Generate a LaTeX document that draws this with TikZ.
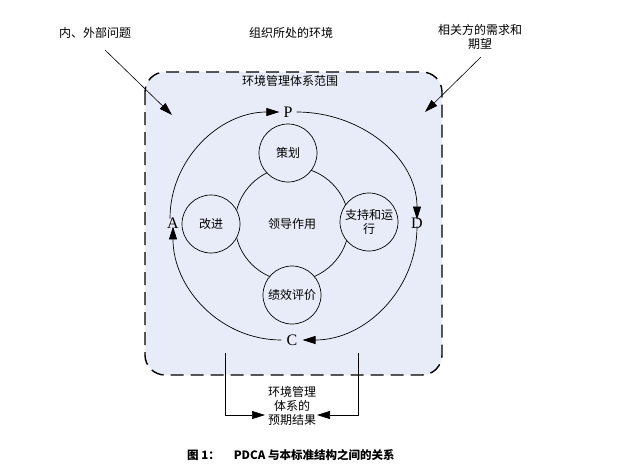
\documentclass[tikz,border=0pt]{standalone}
\usepackage{fontspec}
\setmainfont{Liberation Serif}
\newfontfamily\cjk{Noto Sans CJK SC}
\usetikzlibrary{arrows.meta}
\definecolor{scopefill}{RGB}{232,236,248}
\tikzset{
  zh/.style={font=\cjk\fontsize{12}{14}\selectfont, inner sep=1pt},
  letter/.style={font=\fontsize{16}{18}\selectfont, inner sep=1pt},
  ring/.style={draw, line width=0.7pt, circle, minimum size=58pt, inner sep=0pt, font=\cjk\fontsize{12}{14.5}\selectfont, align=center},
  arr/.style={line width=0.7pt, -{Triangle[length=13pt,width=8pt]}},
  thinarr/.style={line width=0.6pt, -{Triangle[length=13pt,width=8pt]}}
}
\begin{document}
\begin{tikzpicture}[x=1pt,y=-1pt]
\useasboundingbox (0,0) rectangle (618,474);
% scope box
\draw[line width=1.4pt, dash pattern=on 13pt off 7pt, rounded corners=20pt, fill=scopefill] (145,72) rectangle (442,375);
% top labels
\node[zh] (env) at (291,33) {组织所处的环境};
\node[zh] (iss) at (95,33) {内、外部问题};
\node[zh, align=center] (need) at (480,37) {相关方的需求和\\期望};
\node[zh] (scope) at (290,81) {环境管理体系范围};
\coordinate (issS) at (105,50);
\coordinate (issE) at (172,115);
\coordinate (needS) at (481,57);
\coordinate (needE) at (425,112);
\draw[thinarr] (issS) -- (issE);
\draw[thinarr] (needS) -- (needE);
% circles
\node[ring, minimum size=114pt] (lead) at (292,224) {领导作用};
\node[ring, fill=scopefill] (plan) at (288,153) {策划};
\node[ring, fill=scopefill] (impr) at (211,224) {改进};
\node[ring, fill=scopefill] (supp) at (369,222) {支持和运\\行};
\node[ring, fill=scopefill] (eval) at (292,295) {绩效评价};
% PDCA letters
\node[letter] (P) at (288,112) {P};
\node[letter] (D) at (417,223) {D};
\node[letter] (C) at (292,340) {C};
\node[letter] (A) at (173,223) {A};
\draw[arr] ([xshift=-3pt,yshift=-2pt]A.north) to[out=90,in=180] ([xshift=-3pt]P.west);
\draw[arr] ([xshift=3pt]P.east) to[out=0,in=90] ([yshift=-3pt]D.north);
\draw[arr] ([yshift=3pt]D.south) to[out=-90,in=0] ([xshift=4pt]C.east);
\draw[arr] ([xshift=-4pt]C.west) to[out=180,in=-90] ([yshift=3pt]A.south);
% results
\node[zh, align=center] (res) at (292,406) {环境管理\\体系的\\预期结果};
\coordinate (rl) at (225,353);
\coordinate (rr) at (358,353);
\coordinate (rlE) at (265,415);
\coordinate (rrE) at (317,415);
\draw[arr] (rl) |- (rlE);
\draw[arr] (rr) |- (rrE);
% caption
\node[anchor=west, font=\cjk\bfseries\fontsize{11.5}{13}\selectfont, inner sep=0pt] (cap) at (187,455) {图 1：\hspace{14pt}PDCA 与本标准结构之间的关系};
\end{tikzpicture}
\end{document}
